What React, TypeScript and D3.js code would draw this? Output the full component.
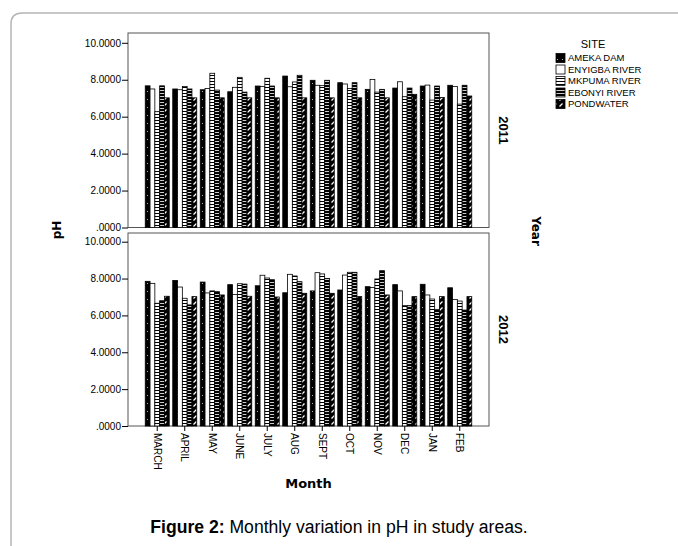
import * as React from 'react';
import * as d3 from 'd3';

const months = ['MARCH', 'APRIL', 'MAY', 'JUNE', 'JULY', 'AUG', 'SEPT', 'OCT', 'NOV', 'DEC', 'JAN', 'FEB'];
const sites = ['AMEKA DAM', 'ENYIGBA RIVER', 'MKPUMA RIVER', 'EBONYI RIVER', 'PONDWATER'];
const years = ['2011', '2012'];
const yTicks = [0, 2, 4, 6, 8, 10];

// 2011
const ameka2011 = [7.67, 7.50, 7.46, 7.35, 7.66, 8.20, 7.97, 7.84, 7.48, 7.55, 7.66, 7.70];
const enyigba2011 = [7.50, 7.46, 7.53, 7.59, 7.64, 7.62, 7.70, 7.77, 8.02, 7.89, 7.71, 7.64];
const mkpuma2011 = [6.27, 7.64, 8.35, 8.13, 8.08, 7.88, 7.68, 7.53, 7.33, 7.08, 6.90, 6.68];
const ebonyi2011 = [7.67, 7.50, 7.44, 7.33, 7.66, 8.24, 7.97, 7.84, 7.48, 7.55, 7.66, 7.70];
const pond2011 = [7.02, 7.02, 7.02, 7.02, 7.02, 7.02, 7.02, 7.02, 7.02, 7.21, 7.04, 7.12];

// 2012
const ameka2012 = [7.85, 7.90, 7.81, 7.67, 7.61, 7.23, 7.33, 7.38, 7.56, 7.67, 7.69, 7.50];
const enyigba2012 = [7.74, 7.54, 7.22, 7.14, 8.18, 8.23, 8.32, 8.19, 7.52, 7.33, 7.11, 6.87];
const mkpuma2012 = [6.66, 6.93, 7.33, 7.72, 8.03, 8.14, 8.25, 8.34, 7.98, 6.53, 6.89, 6.78];
const ebonyi2012 = [6.80, 6.57, 7.29, 7.70, 7.94, 7.83, 8.01, 8.34, 8.43, 6.53, 6.33, 6.29];
const pond2012 = [7.04, 7.02, 7.11, 7.04, 7.00, 7.20, 7.20, 7.02, 7.11, 7.02, 7.02, 7.02];

const series = [
  [ameka2011, enyigba2011, mkpuma2011, ebonyi2011, pond2011],
  [ameka2012, enyigba2012, mkpuma2012, ebonyi2012, pond2012],
];

const FONT = '"Liberation Sans", Arial, sans-serif';

class App extends React.Component {
  svgRef = React.createRef<SVGSVGElement>();

  componentDidMount() {
    const width = 678;
    const height = 546;
    const left = 128;
    const right = 489;

    const svg = d3.select(this.svgRef.current);
    svg.selectAll('*').remove();
    svg.attr('width', width).attr('height', height);

    // fill patterns for the five sites
    const defs = svg.append('defs');
    const pat = (id: string, w: number, h: number, bg: string) => {
      const p = defs.append('pattern').attr('id', id)
        .attr('patternUnits', 'userSpaceOnUse')
        .attr('width', w).attr('height', h);
      p.append('rect').attr('width', w).attr('height', h).attr('fill', bg);
      return p;
    };
    pat('p0', 5, 8, '#000').append('rect').attr('x', 2).attr('y', 3).attr('width', 1).attr('height', 1).attr('fill', '#fff').attr('opacity', 0.7);
    pat('p1', 4, 4, '#fff');
    pat('p2', 4, 3, '#fff').append('rect').attr('y', 0).attr('width', 4).attr('height', 1).attr('fill', '#000');
    pat('p3', 4, 3, '#000').append('rect').attr('y', 0).attr('width', 4).attr('height', 0.8).attr('fill', '#fff');
    pat('p4', 6, 6, '#000').append('path').attr('d', 'M1.5,4.5L4.5,1.5').attr('stroke', '#fff').attr('stroke-width', 1.3);

    // outer page frame
    svg.append('path')
      .attr('d', 'M11,560V24Q11,13 22,13H690')
      .attr('fill', 'none')
      .attr('stroke', '#b5b5b5')
      .attr('stroke-width', 1.5);

    const x = d3.scaleBand().domain(months).range([left, right]).paddingInner(0.127).paddingOuter(0.627);
    const xs = d3.scaleBand().domain(sites).range([0, x.bandwidth()]);

    const panels = [
      {top: 33, y0: 227.5, y10: 42.8},
      {top: 233, y0: 426, y10: 241.7},
    ];

    panels.forEach((p, k) => {
      const y = d3.scaleLinear().domain([0, 10]).range([p.y0, p.y10]);
      const g = svg.append('g');

      g.append('rect')
        .attr('x', left).attr('y', p.top)
        .attr('width', right - left).attr('height', p.y0 - p.top)
        .attr('fill', 'none').attr('stroke', '#555').attr('stroke-width', 1);

      series[k].forEach((vals, j) => {
        g.append('g').selectAll('rect')
          .data(vals)
          .join('rect')
          .attr('x', (d, i) => x(months[i])! + xs(sites[j])!)
          .attr('y', d => y(d))
          .attr('width', xs.bandwidth())
          .attr('height', d => y(0) - y(d))
          .attr('fill', `url(#p${j})`)
          .attr('stroke', '#000')
          .attr('stroke-width', 0.8);
      });

      const ax = g.append('g')
        .attr('transform', `translate(${left},0)`)
        .call(d3.axisLeft(y).tickValues(yTicks).tickSize(6).tickPadding(1)
          .tickFormat(d => (+d === 0 ? '.0000' : (+d).toFixed(4))));
      ax.select('.domain').remove();
      ax.selectAll('line').attr('stroke', '#000');
      ax.selectAll('text').attr('font-family', FONT).attr('font-size', 10).attr('fill', '#000');

      g.append('text')
        .attr('transform', `translate(504,${(p.top + p.y0) / 2}) rotate(90)`)
        .attr('text-anchor', 'middle')
        .attr('dy', '0.35em')
        .attr('font-family', FONT)
        .attr('font-weight', 'bold')
        .attr('font-size', 13)
        .text(years[k]);

      if (k === 1) {
        const bx = g.append('g')
          .attr('transform', `translate(0,${p.y0})`)
          .call(d3.axisBottom(x).tickSize(5).tickSizeOuter(0));
        bx.select('.domain').remove();
        bx.selectAll('line').attr('stroke', '#000');
        bx.selectAll('text')
          .attr('y', 0).attr('x', 7).attr('dy', '0.35em')
          .attr('transform', 'rotate(90)')
          .attr('text-anchor', 'start')
          .attr('font-family', FONT).attr('font-size', 10).attr('fill', '#000');
      }
    });

    // axis titles
    svg.append('text')
      .attr('transform', 'translate(57,230) rotate(-90)')
      .attr('text-anchor', 'middle').attr('dy', '0.35em')
      .attr('font-family', '"DejaVu Sans", Verdana, sans-serif').attr('font-weight', 'bold').attr('font-size', 12)
      .text('pH');
    svg.append('text')
      .attr('transform', 'translate(536,231) rotate(90)')
      .attr('text-anchor', 'middle').attr('dy', '0.35em')
      .attr('font-family', '"DejaVu Sans", Verdana, sans-serif').attr('font-weight', 'bold').attr('font-size', 12)
      .text('Year');
    svg.append('text')
      .attr('x', 308.5).attr('y', 488)
      .attr('text-anchor', 'middle')
      .attr('font-family', '"DejaVu Sans", Verdana, sans-serif').attr('font-weight', 'bold').attr('font-size', 13)
      .text('Month');

    // legend
    const lg = svg.append('g');
    lg.append('text')
      .attr('x', 593).attr('y', 48)
      .attr('text-anchor', 'middle')
      .attr('font-family', FONT).attr('font-size', 11)
      .text('SITE');
    sites.forEach((s, j) => {
      const ly = 58 + j * 11.5;
      lg.append('rect')
        .attr('x', 556).attr('y', ly - 4.5)
        .attr('width', 9).attr('height', 9)
        .attr('fill', `url(#p${j})`)
        .attr('stroke', '#000').attr('stroke-width', 0.8);
      lg.append('text')
        .attr('x', 568).attr('y', ly).attr('dy', '0.35em')
        .attr('font-family', FONT).attr('font-size', 9.5)
        .text(s);
    });

    // caption
    const cap = svg.append('text')
      .attr('x', 339).attr('y', 533)
      .attr('text-anchor', 'middle')
      .attr('font-family', FONT).attr('font-size', 17.6);
    cap.append('tspan').attr('font-weight', 'bold').text('Figure 2:');
    cap.append('tspan').text(' Monthly variation in pH in study areas.');
  }

  render() {
    return (
      <svg ref={this.svgRef} style={{position: 'absolute', left: 0, top: 0}}></svg>
    );
  }
}

export default App;
